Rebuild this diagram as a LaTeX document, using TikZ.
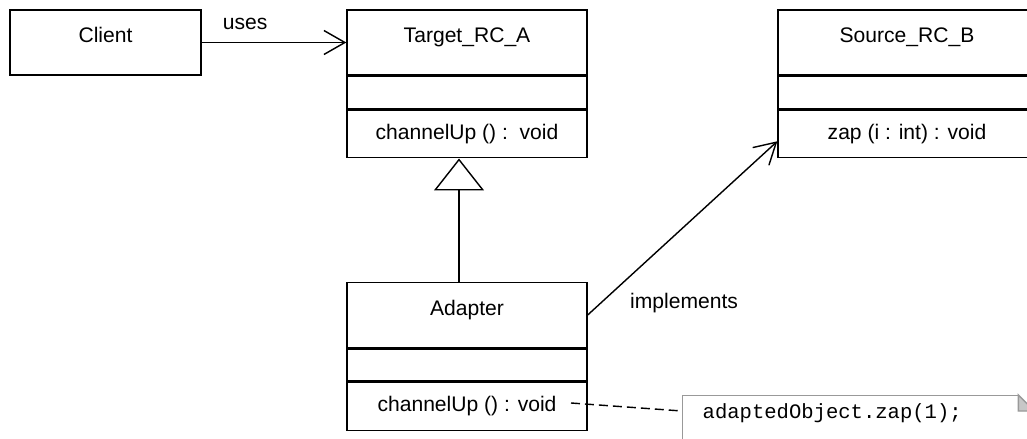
\documentclass[tikz,border=0pt]{standalone}
\usepackage{fontspec}
\setmainfont{Liberation Sans}
\setmonofont{Liberation Mono}
\usetikzlibrary{arrows.meta,positioning}
\definecolor{NoteInk}{gray}{0.6}
\definecolor{FoldFill}{gray}{0.78}
\tikzset{
  diagram/.style={x=0.02cm,y=-0.02cm,font=\fontsize{12}{14}\selectfont,line width=0.8pt},
  namepart/.style={draw,minimum width=4.8cm,minimum height=1.3cm,text height=9pt,text depth=9pt,inner sep=0pt},
  attrpart/.style={draw,minimum width=4.8cm,minimum height=0.64cm,inner sep=0pt},
  opspart/.style={draw,minimum width=4.8cm,minimum height=0.96cm,inner sep=0pt},
  assoc/.style={-{Straight Barb[length=0.42cm,width=0.48cm]}},
  generalize/.style={-{Triangle[open,length=0.64cm,width=1cm]}},
  notebox/.style={draw=NoteInk,fill=white,anchor=north west,font=\ttfamily\fontsize{11.7}{14}\selectfont,
    text width=6.22cm,align=left,inner xsep=0.4cm,inner ysep=5pt,text height=8pt,text depth=12pt},
  notelink/.style={dash pattern=on 0.18cm off 0.1cm},
}
\begin{document}
\begin{tikzpicture}[diagram]
  \useasboundingbox (0,0) rectangle (1027,439);
  \clip (0,0) rectangle (1027,439);

  \node[namepart,minimum width=3.82cm] (client) at (105.5,42.5) {Client};

  \node[namepart] (target) at (467,42.5) {Target\_RC\_A};
  \node[attrpart,below=0pt of target] (targetattr) {};
  \node[opspart,below=0pt of targetattr] (targetops) {channelUp () :\ \ void};

  \node[namepart,minimum width=5.16cm] (source) at (907,42.5) {Source\_RC\_B};
  \node[attrpart,minimum width=5.16cm,below=0pt of source] (sourceattr) {};
  \node[opspart,minimum width=5.16cm,below=0pt of sourceattr] (sourceops) {zap (i : int) : void};

  \node[namepart] (adapter) at (467,315) {Adapter};
  \node[attrpart,below=0pt of adapter] (adapterattr) {};
  \node[opspart,below=0pt of adapterattr] (adapterops) {channelUp () : void};

  \draw[assoc] (client.east) -- node[above,pos=0.3,yshift=0.12cm] {uses} (target.west);
  \draw[generalize] ([xshift=-0.16cm]adapter.north) -- ([xshift=-0.16cm]targetops.south);
  \draw[assoc] (adapter.east)
    -- node[at start,anchor=west,xshift=0.72cm,yshift=0.24cm] {implements}
    ([yshift=-0.15cm]sourceops.west);

  \node[notebox] (code) at (682,395) {adaptedObject.zap(1);};
  \fill[white] ([xshift=-0.32cm]code.north east) -- ([xshift=0.05cm]code.north east)
    -- ([xshift=0.05cm,yshift=-0.32cm]code.north east) -- cycle;
  \filldraw[draw=NoteInk,fill=FoldFill] ([xshift=-0.32cm]code.north east)
    -- ([xshift=-0.32cm,yshift=-0.32cm]code.north east) -- ([yshift=-0.32cm]code.north east) -- cycle;

  \coordinate (voidend) at (571,403);
  \draw[notelink] (voidend) -- ([yshift=-0.32cm]code.north west);
\end{tikzpicture}
\end{document}
